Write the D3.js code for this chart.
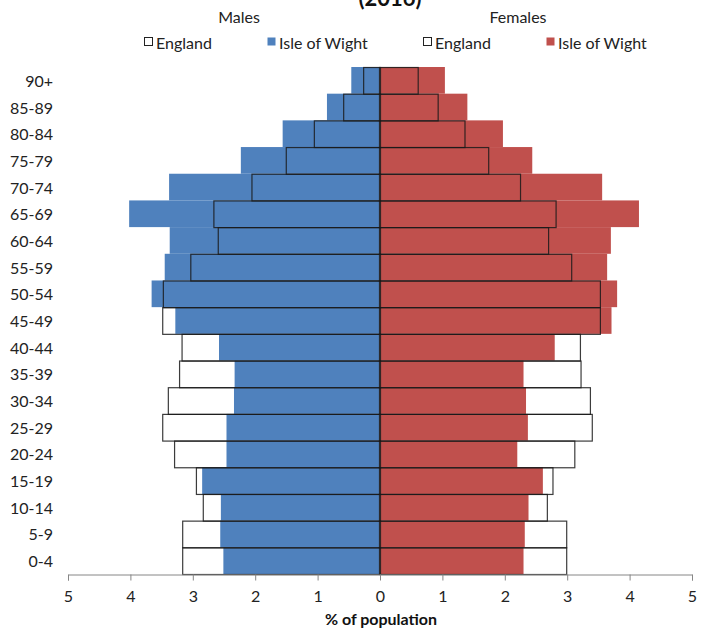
<!DOCTYPE html>
<html>
<head>
<meta charset="utf-8">
<script src="https://cdn.jsdelivr.net/npm/d3@7"></script>
<style>
  html, body { margin: 0; padding: 0; background: #fff; }
  svg { display: block; font-family: Lato, "Open Sans", sans-serif; }
</style>
</head>
<body>
<svg id="chart" width="706" height="628"></svg>
<script>
// Age bands, oldest first (top of pyramid)
const ageGroups = ["90+", "85-89", "80-84", "75-79", "70-74", "65-69", "60-64", "55-59",
  "50-54", "45-49", "40-44", "35-39", "30-34", "25-29", "20-24", "15-19", "10-14", "5-9", "0-4"];

// % of total population in each band
const iowMales = [0.46, 0.85, 1.56, 2.23, 3.38, 4.02, 3.37, 3.45, 3.66, 3.28, 2.58, 2.33, 2.34, 2.46, 2.46, 2.85, 2.55, 2.56, 2.51];
const englandMales = [0.27, 0.59, 1.06, 1.51, 2.06, 2.67, 2.60, 3.04, 3.48, 3.49, 3.18, 3.22, 3.40, 3.49, 3.30, 2.95, 2.84, 3.17, 3.17];
const iowFemales = [1.04, 1.40, 1.97, 2.44, 3.56, 4.15, 3.70, 3.64, 3.80, 3.71, 2.80, 2.30, 2.34, 2.37, 2.20, 2.61, 2.38, 2.32, 2.30];
const englandFemales = [0.62, 0.94, 1.37, 1.75, 2.26, 2.83, 2.71, 3.08, 3.54, 3.54, 3.22, 3.23, 3.38, 3.41, 3.13, 2.78, 2.69, 3.00, 3.00];

const tickValues = [-5, -4, -3, -2, -1, 0, 1, 2, 3, 4, 5];

const blue = "#4F81BD", red = "#C0504D";

const svg = d3.select("#chart");

const x = d3.scaleLinear().domain([-5, 5]).range([68, 692]);
const y = d3.scaleBand().domain(ageGroups).range([67, 574]).padding(0);

const rows = ageGroups.map((g, i) => ({
  group: g,
  iowM: iowMales[i], engM: englandMales[i],
  iowF: iowFemales[i], engF: englandFemales[i]
}));

// Isle of Wight filled bars
const plot = svg.append("g");
plot.selectAll("rect.iowM").data(rows).join("rect")
  .attr("class", "iowM")
  .attr("x", d => x(-d.iowM)).attr("y", d => y(d.group))
  .attr("width", d => x(0) - x(-d.iowM)).attr("height", y.bandwidth())
  .attr("fill", blue);
plot.selectAll("rect.iowF").data(rows).join("rect")
  .attr("class", "iowF")
  .attr("x", x(0)).attr("y", d => y(d.group))
  .attr("width", d => x(d.iowF) - x(0)).attr("height", y.bandwidth())
  .attr("fill", red);

// Centre line
plot.append("line")
  .attr("x1", x(0)).attr("x2", x(0)).attr("y1", y.range()[0]).attr("y2", y.range()[1])
  .attr("stroke", "#d9a0a0").attr("stroke-width", 1);

// England outlines drawn over the fills
plot.selectAll("rect.engM").data(rows).join("rect")
  .attr("class", "engM")
  .attr("x", d => x(-d.engM) + 0.5).attr("y", d => y(d.group) + 0.5)
  .attr("width", d => x(0) - x(-d.engM)).attr("height", y.bandwidth())
  .attr("fill", "none").attr("stroke", "#1a1a1a").attr("stroke-opacity", 0.85).attr("stroke-width", 1.2);
plot.selectAll("rect.engF").data(rows).join("rect")
  .attr("class", "engF")
  .attr("x", x(0) - 0.5).attr("y", d => y(d.group) + 0.5)
  .attr("width", d => x(d.engF) - x(0)).attr("height", y.bandwidth())
  .attr("fill", "none").attr("stroke", "#1a1a1a").attr("stroke-opacity", 0.85).attr("stroke-width", 1.2);

// Age labels
svg.append("g").selectAll("text").data(ageGroups).join("text")
  .attr("x", 53).attr("y", d => y(d) + y.bandwidth() / 2)
  .attr("text-anchor", "end").attr("dominant-baseline", "central")
  .attr("font-size", 16).attr("fill", "#222")
  .text(d => d);

// Bottom axis: absolute percentages either side of zero
const xAxis = d3.axisBottom(x).tickValues(tickValues).tickSize(6).tickPadding(10)
  .tickFormat(d => Math.abs(d));
const ax = svg.append("g").attr("transform", "translate(0,574.5)").call(xAxis);
ax.select(".domain").attr("stroke", "#868686");
ax.selectAll(".tick line").attr("stroke", "#868686");
ax.selectAll(".tick text").attr("font-size", 16).attr("fill", "#222")
  .attr("font-family", "Lato, 'Open Sans', sans-serif");

svg.append("text")
  .attr("x", 381).attr("y", 625).attr("text-anchor", "middle")
  .attr("font-size", 16).attr("font-weight", "bold").attr("fill", "#111")
  .text("% of population");

// Title (top line sits above the visible area)
svg.append("text")
  .attr("x", 390).attr("y", 6).attr("text-anchor", "middle")
  .attr("font-size", 22).attr("font-weight", "bold").attr("fill", "#111")
  .text("(2016)");

svg.append("text").attr("x", 239).attr("y", 16).attr("text-anchor", "middle")
  .attr("dominant-baseline", "central").attr("font-size", 16).attr("fill", "#222").text("Males");
svg.append("text").attr("x", 518).attr("y", 16).attr("text-anchor", "middle")
  .attr("dominant-baseline", "central").attr("font-size", 16).attr("fill", "#222").text("Females");

// Legend
const legendItems = [
  { label: "England", x: 144, fill: "#fff", stroke: "#222" },
  { label: "Isle of Wight", x: 267, fill: blue, stroke: "none" },
  { label: "England", x: 423, fill: "#fff", stroke: "#222" },
  { label: "Isle of Wight", x: 546, fill: red, stroke: "none" }
];
const lg = svg.append("g").selectAll("g").data(legendItems).join("g")
  .attr("transform", d => `translate(${d.x},42)`);
lg.append("rect").attr("x", 0.5).attr("y", -4.5).attr("width", 8).attr("height", 8)
  .attr("fill", d => d.fill).attr("stroke", d => d.stroke);
lg.append("text").attr("x", 12).attr("y", 0).attr("dominant-baseline", "central")
  .attr("font-size", 16).attr("fill", "#222").text(d => d.label);
</script>
</body>
</html>
